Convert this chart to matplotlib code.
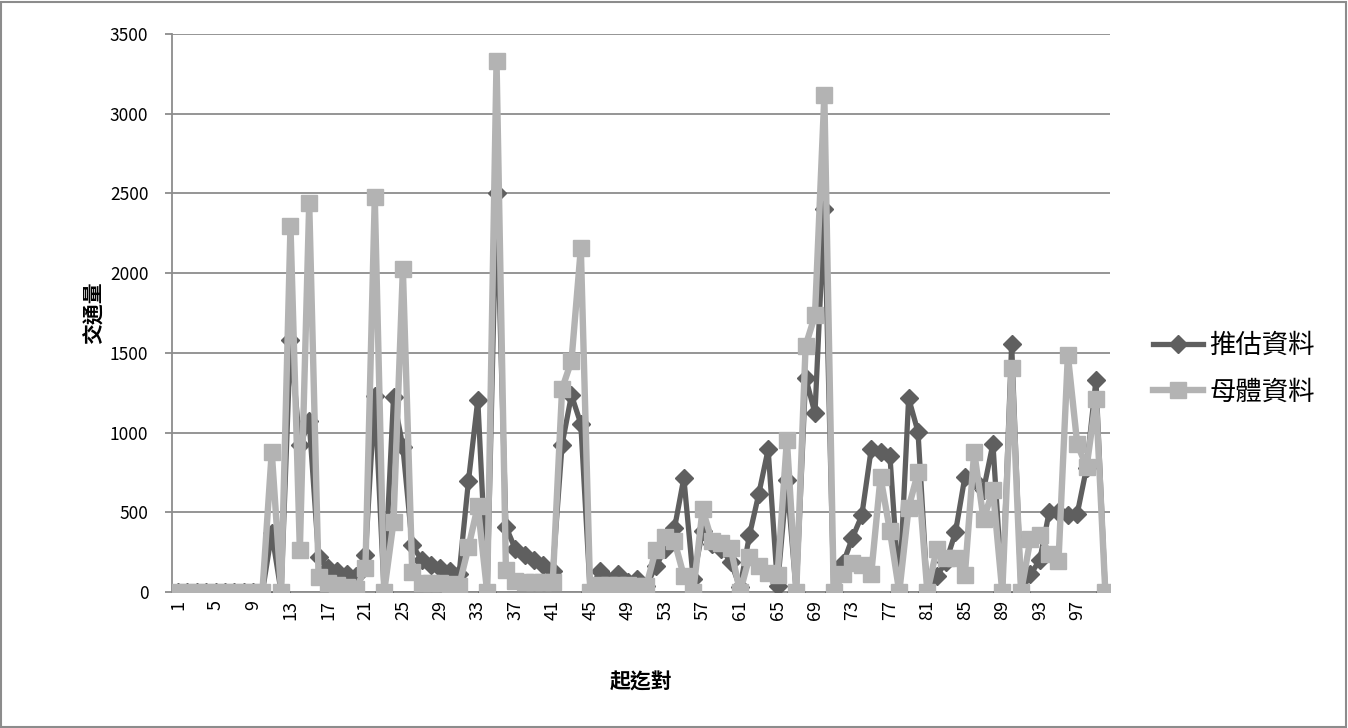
import matplotlib
matplotlib.use("Agg")
import matplotlib.pyplot as plt
from matplotlib.patches import Rectangle

plt.rcParams['font.family'] = ['Noto Sans CJK TC', 'DejaVu Sans']

# category index (起迄對 1..100)
od_pairs = list(range(1, 101))

# 推估資料 (estimated)
estimated = [
    0, 0, 0, 0, 0, 0, 0, 0, 0, 0,                        # 1-10
    370, 0, 1580, 920, 1070, 220, 150, 130, 115, 100,     # 11-20
    230, 1230, 0, 1220, 910, 295, 200, 170, 150, 130,     # 21-30
    110, 695, 1205, 0, 2505, 410, 270, 230, 200, 170,     # 31-40
    130, 925, 1235, 1055, 0, 130, 70, 110, 60, 80,        # 41-50
    40, 160, 270, 400, 715, 80, 385, 300, 270, 190,       # 51-60
    30, 355, 615, 895, 40, 700, 0, 1345, 1120, 2405,      # 61-70
    0, 180, 340, 480, 895, 880, 855, 0, 1215, 1005,       # 71-80
    0, 100, 190, 375, 720, 700, 640, 930, 0, 1555,        # 81-90
    0, 110, 200, 500, 500, 480, 490, 780, 1330, 0,        # 91-100
]

# 母體資料 (population)
population = [
    0, 0, 0, 0, 0, 0, 0, 0, 0, 0,                         # 1-10
    880, 0, 2295, 265, 2440, 95, 55, 43, 30, 20,          # 11-20
    150, 2475, 0, 440, 2025, 125, 55, 55, 55, 50,         # 21-30
    40, 280, 540, 0, 3330, 140, 66, 60, 60, 60,           # 31-40
    60, 1275, 1450, 2155, 0, 45, 45, 45, 45, 40,          # 41-50
    40, 265, 345, 320, 100, 0, 518, 320, 310, 275,        # 51-60
    0, 220, 160, 120, 105, 955, 0, 1545, 1735, 3115,      # 61-70
    0, 110, 180, 170, 110, 720, 385, 0, 530, 750,         # 71-80
    0, 270, 215, 215, 105, 880, 455, 640, 0, 1405,        # 81-90
    0, 330, 360, 240, 195, 1485, 930, 785, 1210, 0,       # 91-100
]

series_names = ['推估資料', '母體資料']
y_ticks = [0, 500, 1000, 1500, 2000, 2500, 3000, 3500]
x_tick_labels = list(range(1, 101, 4))

W, H = 1348, 728
fig = plt.figure(figsize=(W / 100, H / 100), dpi=100)
fig.patch.set_facecolor('white')

ax = fig.add_axes([172 / W, 1 - 592 / H, (1110 - 172) / W, (592 - 34) / H])

dark = '#5f5f5f'
light = '#b3b3b3'
grid_c = '#8c8c8c'

ax.plot(od_pairs, estimated, color=dark, lw=3.8, marker='D', markersize=9,
        markerfacecolor=dark, markeredgecolor=dark, label=series_names[0], zorder=3)
ax.plot(od_pairs, population, color=light, lw=4.6, marker='s', markersize=11,
        markerfacecolor=light, markeredgecolor=light, label=series_names[1], zorder=4)

ax.set_xlim(0.35, 100.5)
ax.set_ylim(0, 3500)
ax.set_yticks(y_ticks)
ax.set_yticklabels([str(v) for v in y_ticks], fontsize=12.5)
ax.set_xticks(x_tick_labels)
ax.set_xticklabels([str(v) for v in x_tick_labels], rotation=90, fontsize=13)

ax.yaxis.grid(True, color=grid_c, lw=1.3)
ax.set_axisbelow(True)
for s in ['top', 'right']:
    ax.spines[s].set_visible(False)
for s in ['left', 'bottom']:
    ax.spines[s].set_color(grid_c)
    ax.spines[s].set_linewidth(1.3)
ax.spines['bottom'].set_zorder(2)
ax.tick_params(axis='y', length=5, color=grid_c, width=1.3, pad=12)
ax.tick_params(axis='x', length=0, pad=6)

ax.set_ylabel('交通量', fontsize=15, fontweight='bold', labelpad=4)
ax.set_xlabel('起迄對', fontsize=15, fontweight='bold', labelpad=37)

leg = ax.legend(loc='center left', bbox_to_anchor=(1.02, 0.40), frameon=False,
                fontsize=19, handlelength=1.9, labelspacing=0.75, handletextpad=0.25)

fig.patches.append(Rectangle((1 / W, 1 / H), (W - 3) / W, (H - 3) / H,
                             transform=fig.transFigure, fill=False,
                             edgecolor=grid_c, lw=1.5))

fig.savefig('out.png', dpi=100)
